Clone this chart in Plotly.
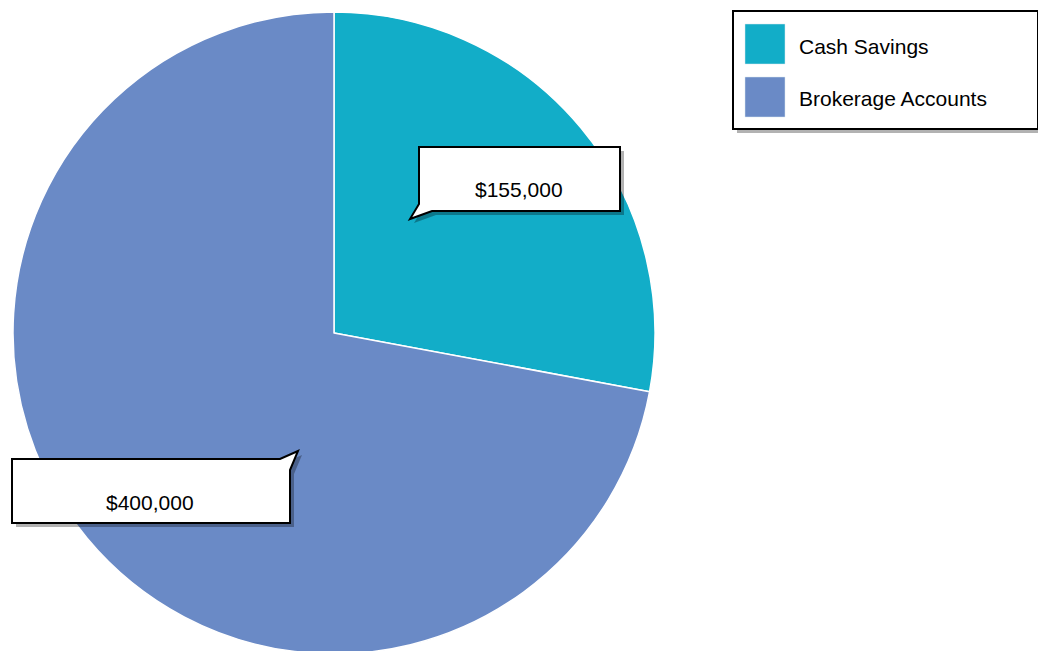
import plotly.graph_objects as go

W, H = 1046, 651
OFF = 8  # page body margin in the browser

labels = ["Cash Savings", "Brokerage Accounts"]
values = [155000, 400000]
colors = ["#12adc8", "#6a8ac6"]

FONT = "Liberation Sans, Arial, sans-serif"


def px(x):
    return (x - OFF) / W


def py(y):
    return 1 - (y - OFF) / H


def path(points):
    return "M " + " L ".join(f"{px(x)},{py(y)}" for x, y in points) + " Z"


def shifted(points, d=4):
    return [(x + d, y + d) for x, y in points]


fig = go.Figure(
    go.Pie(
        labels=labels,
        values=values,
        marker=dict(colors=colors, line=dict(color="white", width=1.5)),
        sort=False,
        direction="clockwise",
        rotation=0,
        textinfo="none",
        hoverinfo="label+value",
        showlegend=False,
        domain=dict(x=[px(13), px(655)], y=[py(654), py(12)]),
    )
)

shapes = []
annotations = []

# callout boxes: (outline points, text position)
callouts = [
    (
        [(419, 147), (620, 147), (620, 211), (432, 211), (410, 219), (419, 204)],
        (519, 190),
    ),
    (
        [(12, 459), (280, 459), (298, 451), (290, 470), (290, 523), (12, 523)],
        (150, 502),
    ),
]

for (pts, (tx, ty)), v in zip(callouts, values):
    shapes.append(dict(type="path", xref="paper", yref="paper", path=path(shifted(pts)),
                       fillcolor="rgba(0,0,0,0.3)", line=dict(width=0)))
    shapes.append(dict(type="path", xref="paper", yref="paper", path=path(pts),
                       fillcolor="white", line=dict(color="black", width=2)))
    annotations.append(dict(x=px(tx), y=py(ty), xref="paper", yref="paper",
                            xanchor="center", yanchor="middle",
                            text=f"${v:,}", showarrow=False,
                            font=dict(family=FONT, size=21, color="black")))

# legend drawn by hand to get the big swatches
shapes.append(dict(type="rect", xref="paper", yref="paper",
                   x0=px(737), x1=px(1042), y0=py(133), y1=py(15),
                   fillcolor="rgba(0,0,0,0.3)", line=dict(width=0)))
shapes.append(dict(type="rect", xref="paper", yref="paper",
                   x0=px(733), x1=px(1038), y0=py(129), y1=py(11),
                   fillcolor="white", line=dict(color="black", width=2)))
for i, (lab, col) in enumerate(zip(labels, colors)):
    top = 24 + i * 53
    shapes.append(dict(type="rect", xref="paper", yref="paper",
                       x0=px(745), x1=px(785), y0=py(top + 40), y1=py(top),
                       fillcolor=col, line=dict(color="#d8e4ee", width=0.5)))
    annotations.append(dict(x=px(797), y=py(top + 22), xref="paper", yref="paper",
                            xanchor="left", yanchor="middle", text=lab, showarrow=False,
                            font=dict(family=FONT, size=21, color="black")))

fig.update_layout(
    width=W,
    height=H,
    margin=dict(l=0, r=0, t=0, b=0),
    paper_bgcolor="white",
    plot_bgcolor="white",
    shapes=shapes,
    annotations=annotations,
)

fig.write_html("out.html")
